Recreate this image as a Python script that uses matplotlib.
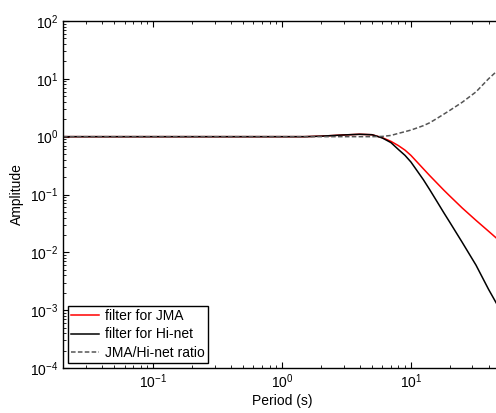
import matplotlib
matplotlib.use("Agg")
import matplotlib.pyplot as plt
from matplotlib.ticker import LogLocator, FixedLocator, NullFormatter

plt.rcParams['font.family'] = ['Liberation Sans', 'DejaVu Sans']
plt.rcParams['mathtext.default'] = 'regular'
plt.rcParams['font.size'] = 10

period = [0.02, 0.5, 1.0, 1.5, 2, 3, 4, 5, 6, 7, 8, 9, 10, 11, 12.5, 14, 16, 18,
          20, 25, 32, 40, 50]
amp_jma = [1, 1, 1, 1.0, 1.02, 1.07, 1.1, 1.08, 0.96, 0.83, 0.70, 0.585, 0.475,
           0.378, 0.278, 0.212, 0.156, 0.119, 0.0945, 0.0585, 0.0357, 0.0232,
           0.0150]
amp_hinet = [1, 1, 1, 1.0, 1.02, 1.07, 1.1, 1.08, 0.95, 0.79, 0.60, 0.475, 0.365,
             0.27, 0.18, 0.121, 0.0745, 0.0484, 0.0333, 0.0149, 0.006, 0.0023,
             0.00095]
amp_ratio = [1, 1, 1, 1, 1, 1, 1, 1, 1.01, 1.05, 1.14, 1.22, 1.30, 1.40, 1.55,
             1.74, 2.08, 2.45, 2.84, 3.93, 5.95, 10.0, 15.8]

labels = ['filter for JMA', 'filter for Hi-net', 'JMA/Hi-net ratio']
xticks = [0.1, 1, 10]
yticks = [1e-4, 1e-3, 1e-2, 1e-1, 1, 10, 100]

fig = plt.figure(figsize=(4.96, 4.13), dpi=100)
ax = fig.add_axes([63/496, (413-368)/413, (501-63)/496, (368-21)/413])

ax.loglog(period, amp_jma, color='#ff0000', lw=1.1, label=labels[0])
ax.loglog(period, amp_hinet, color='black', lw=1.1, label=labels[1])
ax.loglog(period, amp_ratio, color='#555555', lw=1.1, ls=(0, (3, 1.5)), label=labels[2])

ax.set_xlim(0.02, 50)
ax.set_ylim(1e-4, 1e2)

ax.xaxis.set_major_locator(FixedLocator(xticks))
ax.yaxis.set_major_locator(FixedLocator(yticks))
ax.xaxis.set_minor_locator(LogLocator(base=10, subs=range(2, 10), numticks=20))
ax.yaxis.set_minor_locator(LogLocator(base=10, subs=range(2, 10), numticks=20))
ax.xaxis.set_minor_formatter(NullFormatter())
ax.yaxis.set_minor_formatter(NullFormatter())

ax.tick_params(which='both', direction='in', top=True, right=False, labelsize=10)
ax.tick_params(which='major', length=4, width=0.8)
ax.tick_params(which='minor', length=2, width=0.6)
ax.spines['right'].set_visible(False)
for s in ['left', 'top', 'bottom']:
    ax.spines[s].set_linewidth(1.0)

ax.set_xlabel('Period (s)', fontsize=10, labelpad=2)
ax.set_ylabel('Amplitude', fontsize=10, labelpad=4)

leg = ax.legend(loc='lower left', fontsize=10, frameon=True, fancybox=False,
                edgecolor='black', framealpha=1, borderpad=0.25,
                handlelength=2.0, handletextpad=0.4, labelspacing=0.3,
                borderaxespad=0.35)
leg.get_frame().set_linewidth(1.0)

fig.savefig('out.png', dpi=100)
